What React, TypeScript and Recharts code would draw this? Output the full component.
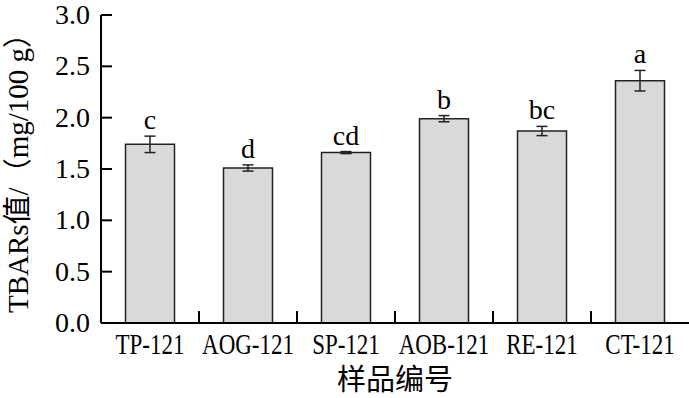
import { Bar, BarChart, ErrorBar, LabelList, XAxis, YAxis } from 'recharts';

// TBARs value per sample (mg/100 g)
const samples = ['TP-121', 'AOG-121', 'SP-121', 'AOB-121', 'RE-121', 'CT-121'];
const tbars = [1.74, 1.51, 1.66, 1.99, 1.87, 2.36];
const sdev = [0.08, 0.03, 0.01, 0.03, 0.045, 0.1];
const letters = ['c', 'd', 'cd', 'b', 'bc', 'a'];
const yTicks = [0, 0.5, 1.0, 1.5, 2.0, 2.5, 3.0];

const data = samples.map((name, i) => ({
  name,
  value: tbars[i],
  err: sdev[i],
  letter: letters[i],
}));

const SERIF = "'Liberation Serif', 'Times New Roman', 'Noto Sans CJK SC', serif";
const CJK = "'Noto Sans CJK SC', sans-serif";

/**
 * Y tick: label on the left, tick mark pointing into the plot.
 */
function YTick(props: any) {
  const { x, y, payload } = props;
  return (
    <g>
      <line x1={x + 11} x2={x + 22} y1={y} y2={y} stroke="#000" strokeWidth={2} />
      <text
        x={x}
        y={y + 9}
        textAnchor="end"
        fontFamily={SERIF}
        fontSize={28}
        fill="#000"
      >
        {Number(payload.value).toFixed(1)}
      </text>
    </g>
  );
}

/**
 * X tick: sample name below the axis, short divider between categories.
 */
function XTick(props: any) {
  const { x, y, payload, index } = props;
  const half = payload.offset ?? 49;
  return (
    <g>
      {index > 0 && (
        <line x1={x - half} x2={x - half} y1={y} y2={y - 12} stroke="#000" strokeWidth={2} />
      )}
      <text
        transform={`translate(${x},${y + 31}) scale(1,1.3)`}
        textAnchor="middle"
        fontFamily={SERIF}
        fontSize={23}
        fill="#000"
      >
        {payload.value}
      </text>
    </g>
  );
}

function LetterLabel(props: any) {
  const { x, y, width, height, value, index } = props;
  const i = index ?? letters.indexOf(value);
  const pxPerUnit = height / tbars[i];
  const errTop = y - sdev[i] * pxPerUnit;
  return (
    <text
      x={x + width / 2}
      y={errTop - 7}
      textAnchor="middle"
      fontFamily={SERIF}
      fontSize={28}
      fill="#000"
    >
      {value}
    </text>
  );
}

export default function App() {
  return (
    <div style={{ position: 'absolute', left: 0, top: 0, background: '#fff' }}>
      <BarChart
        width={689}
        height={398}
        data={data}
        margin={{ top: 15, right: 0, bottom: 0, left: 0 }}
        barCategoryGap="25%"
      >
        <XAxis
          dataKey="name"
          height={75}
          tickSize={0}
          tickMargin={0}
          tickLine={false}
          tick={<XTick />}
          interval={0}
          axisLine={{ stroke: '#000', strokeWidth: 2 }}
          label={{
            content: (p: any) => {
              const vb = p.viewBox;
              return (
                <text
                  x={vb.x + vb.width / 2}
                  y={390}
                  textAnchor="middle"
                  fontFamily={CJK}
                  fontSize={29}
                  fill="#000"
                >
                  样品编号
                </text>
              );
            },
          }}
        />
        <YAxis
          width={101}
          domain={[0, 3]}
          ticks={yTicks}
          tickSize={0}
          tickMargin={11}
          tickLine={false}
          tick={<YTick />}
          axisLine={{ stroke: '#000', strokeWidth: 2 }}
          label={{
            content: (p: any) => {
              const vb = p.viewBox;
              const cy = vb.y + vb.height / 2 - 3;
              return (
                <text
                  transform={`translate(28,${cy}) rotate(-90)`}
                  textAnchor="middle"
                  fontFamily={SERIF}
                  fontSize={29}
                  fill="#000"
                >
                  TBARs值/（mg/100 g）
                </text>
              );
            },
          }}
        />
        <Bar
          dataKey="value"
          fill="#d9d9d9"
          stroke="#222"
          strokeWidth={1.5}
          isAnimationActive={false}
        >
          <ErrorBar dataKey="err" width={5.5} stroke="#222" strokeWidth={1.5} isAnimationActive={false} />
          <LabelList dataKey="letter" content={<LetterLabel />} />
        </Bar>
      </BarChart>
    </div>
  );
}
